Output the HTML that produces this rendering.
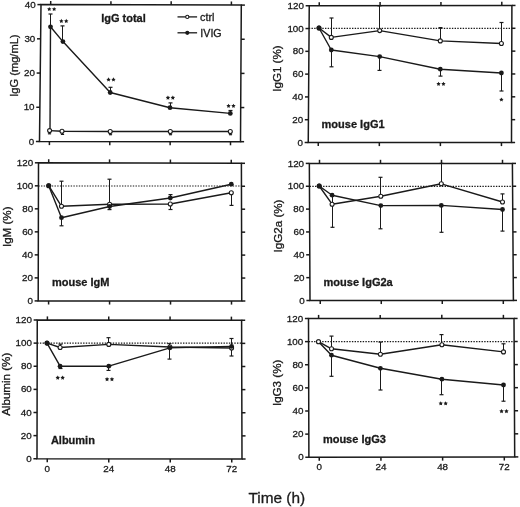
<!DOCTYPE html>
<html><head><meta charset="utf-8"><style>
html,body{margin:0;padding:0;background:#fff;width:520px;height:507px;overflow:hidden;}
svg{display:block;will-change:transform;}
text{font-family:"Liberation Sans",sans-serif;fill:#1a1a1a;stroke:#1a1a1a;stroke-width:0.3px;}
</style></head><body>
<svg width="520" height="507" viewBox="0 0 520 507" stroke="#1a1a1a" fill="none">
<rect x="0" y="0" width="520" height="507" fill="#fff" stroke="none"/>
<g stroke="#1a1a1a">
<polygon points="41.00,4.60 241.30,5.10 240.50,141.70 39.50,141.50" fill="none" stroke-width="1.5"/>
<line x1="50.70" y1="4.62" x2="50.70" y2="1.02" stroke-width="1.5" />
<line x1="49.40" y1="141.51" x2="49.40" y2="145.11" stroke-width="1.5" />
<line x1="110.93" y1="4.77" x2="110.93" y2="1.17" stroke-width="1.5" />
<line x1="109.77" y1="141.57" x2="109.77" y2="145.17" stroke-width="1.5" />
<line x1="171.17" y1="4.92" x2="171.17" y2="1.32" stroke-width="1.5" />
<line x1="170.13" y1="141.63" x2="170.13" y2="145.23" stroke-width="1.5" />
<line x1="231.40" y1="5.08" x2="231.40" y2="1.48" stroke-width="1.5" />
<line x1="230.50" y1="141.69" x2="230.50" y2="145.29" stroke-width="1.5" />
<line x1="39.50" y1="141.50" x2="35.90" y2="141.50" stroke-width="1.5" />
<line x1="240.50" y1="141.70" x2="244.10" y2="141.70" stroke-width="1.5" />
<text x="34.20" y="144.60" font-size="9.8" text-anchor="end" font-weight="normal" >0</text>
<line x1="39.88" y1="107.28" x2="36.27" y2="107.28" stroke-width="1.5" />
<line x1="240.70" y1="107.55" x2="244.30" y2="107.55" stroke-width="1.5" />
<text x="34.58" y="110.38" font-size="9.8" text-anchor="end" font-weight="normal" >10</text>
<line x1="40.25" y1="73.05" x2="36.65" y2="73.05" stroke-width="1.5" />
<line x1="240.90" y1="73.40" x2="244.50" y2="73.40" stroke-width="1.5" />
<text x="34.95" y="76.15" font-size="9.8" text-anchor="end" font-weight="normal" >20</text>
<line x1="40.62" y1="38.82" x2="37.02" y2="38.82" stroke-width="1.5" />
<line x1="241.10" y1="39.25" x2="244.70" y2="39.25" stroke-width="1.5" />
<text x="35.33" y="41.92" font-size="9.8" text-anchor="end" font-weight="normal" >30</text>
<line x1="41.00" y1="4.60" x2="37.40" y2="4.60" stroke-width="1.5" />
<line x1="241.30" y1="5.10" x2="244.90" y2="5.10" stroke-width="1.5" />
<text x="35.70" y="7.70" font-size="9.8" text-anchor="end" font-weight="normal" >40</text>
<polyline points="49.60,130.60 62.00,131.20 110.20,131.50 170.30,131.50 230.30,131.50" fill="none" stroke-width="1.4" stroke-linejoin="round"/>
<polyline points="50.00,130.60 50.50,26.80 62.90,41.60 110.20,92.50 170.00,107.70 230.30,113.40" fill="none" stroke-width="1.4" stroke-linejoin="round"/>
<line x1="50.50" y1="26.80" x2="50.50" y2="14.00" stroke-width="1.0" />
<line x1="48.50" y1="14.00" x2="52.50" y2="14.00" stroke-width="1.2" />
<line x1="62.50" y1="41.60" x2="62.50" y2="25.90" stroke-width="1.0" />
<line x1="60.50" y1="25.90" x2="64.50" y2="25.90" stroke-width="1.2" />
<line x1="110.50" y1="92.50" x2="110.50" y2="87.30" stroke-width="1.0" />
<line x1="108.50" y1="87.30" x2="112.50" y2="87.30" stroke-width="1.2" />
<line x1="170.50" y1="107.70" x2="170.50" y2="102.90" stroke-width="1.0" />
<line x1="168.50" y1="102.90" x2="172.50" y2="102.90" stroke-width="1.2" />
<line x1="230.50" y1="113.40" x2="230.50" y2="110.50" stroke-width="1.0" />
<line x1="228.50" y1="110.50" x2="232.50" y2="110.50" stroke-width="1.2" />
<line x1="49.50" y1="130.60" x2="49.50" y2="133.80" stroke-width="1.0" />
<line x1="47.90" y1="133.80" x2="51.10" y2="133.80" stroke-width="1.2" />
<line x1="62.50" y1="131.20" x2="62.50" y2="134.40" stroke-width="1.0" />
<line x1="60.90" y1="134.40" x2="64.10" y2="134.40" stroke-width="1.2" />
<line x1="110.50" y1="131.50" x2="110.50" y2="134.70" stroke-width="1.0" />
<line x1="108.90" y1="134.70" x2="112.10" y2="134.70" stroke-width="1.2" />
<line x1="170.50" y1="131.50" x2="170.50" y2="134.70" stroke-width="1.0" />
<line x1="168.90" y1="134.70" x2="172.10" y2="134.70" stroke-width="1.2" />
<line x1="230.50" y1="131.50" x2="230.50" y2="134.70" stroke-width="1.0" />
<line x1="228.90" y1="134.70" x2="232.10" y2="134.70" stroke-width="1.2" />
<circle cx="50.50" cy="26.80" r="2.4" fill="#1a1a1a" stroke="none"/>
<circle cx="62.90" cy="41.60" r="2.4" fill="#1a1a1a" stroke="none"/>
<circle cx="110.20" cy="92.50" r="2.4" fill="#1a1a1a" stroke="none"/>
<circle cx="170.00" cy="107.70" r="2.4" fill="#1a1a1a" stroke="none"/>
<circle cx="230.30" cy="113.40" r="2.4" fill="#1a1a1a" stroke="none"/>
<circle cx="49.60" cy="130.60" r="2.0" fill="#fff" stroke-width="1.1"/>
<circle cx="62.00" cy="131.20" r="2.0" fill="#fff" stroke-width="1.1"/>
<circle cx="110.20" cy="131.50" r="2.0" fill="#fff" stroke-width="1.1"/>
<circle cx="170.30" cy="131.50" r="2.0" fill="#fff" stroke-width="1.1"/>
<circle cx="230.30" cy="131.50" r="2.0" fill="#fff" stroke-width="1.1"/>
<polygon points="49.25,6.90 49.93,8.27 51.44,8.49 50.34,9.56 50.60,11.06 49.25,10.35 47.90,11.06 48.16,9.56 47.06,8.49 48.57,8.27" fill="#1a1a1a" stroke="none"/>
<polygon points="54.15,6.90 54.83,8.27 56.34,8.49 55.24,9.56 55.50,11.06 54.15,10.35 52.80,11.06 53.06,9.56 51.96,8.49 53.47,8.27" fill="#1a1a1a" stroke="none"/>
<polygon points="61.35,18.80 62.03,20.17 63.54,20.39 62.44,21.46 62.70,22.96 61.35,22.25 60.00,22.96 60.26,21.46 59.16,20.39 60.67,20.17" fill="#1a1a1a" stroke="none"/>
<polygon points="66.25,18.80 66.93,20.17 68.44,20.39 67.34,21.46 67.60,22.96 66.25,22.25 64.90,22.96 65.16,21.46 64.06,20.39 65.57,20.17" fill="#1a1a1a" stroke="none"/>
<polygon points="108.55,77.30 109.23,78.67 110.74,78.89 109.64,79.96 109.90,81.46 108.55,80.75 107.20,81.46 107.46,79.96 106.36,78.89 107.87,78.67" fill="#1a1a1a" stroke="none"/>
<polygon points="113.45,77.30 114.13,78.67 115.64,78.89 114.54,79.96 114.80,81.46 113.45,80.75 112.10,81.46 112.36,79.96 111.26,78.89 112.77,78.67" fill="#1a1a1a" stroke="none"/>
<polygon points="167.95,95.50 168.63,96.87 170.14,97.09 169.04,98.16 169.30,99.66 167.95,98.95 166.60,99.66 166.86,98.16 165.76,97.09 167.27,96.87" fill="#1a1a1a" stroke="none"/>
<polygon points="172.85,95.50 173.53,96.87 175.04,97.09 173.94,98.16 174.20,99.66 172.85,98.95 171.50,99.66 171.76,98.16 170.66,97.09 172.17,96.87" fill="#1a1a1a" stroke="none"/>
<polygon points="228.55,103.70 229.23,105.07 230.74,105.29 229.64,106.36 229.90,107.86 228.55,107.15 227.20,107.86 227.46,106.36 226.36,105.29 227.87,105.07" fill="#1a1a1a" stroke="none"/>
<polygon points="233.45,103.70 234.13,105.07 235.64,105.29 234.54,106.36 234.80,107.86 233.45,107.15 232.10,107.86 232.36,106.36 231.26,105.29 232.77,105.07" fill="#1a1a1a" stroke="none"/>
<text x="101.20" y="22.30" font-size="11.0" text-anchor="start" font-weight="bold" >IgG total</text>
<line x1="177.50" y1="16.90" x2="197.10" y2="16.90" stroke-width="1.3" />
<circle cx="187.30" cy="16.90" r="1.6" fill="#fff" stroke-width="1.1"/>
<line x1="177.50" y1="32.80" x2="197.10" y2="32.80" stroke-width="1.3" />
<circle cx="187.30" cy="32.80" r="2.1" fill="#1a1a1a" stroke="none"/>
<text x="200.00" y="20.90" font-size="10.8" text-anchor="start" font-weight="normal" >ctrl</text>
<text x="200.30" y="37.10" font-size="10.7" text-anchor="start" font-weight="normal" >IVIG</text>
<text x="0" y="0" font-size="11.1" text-anchor="middle" transform="translate(17.90,65.60) rotate(-90)">IgG (mg/mL)</text>
<polygon points="38.50,162.80 241.40,163.30 241.75,301.00 38.20,300.90" fill="none" stroke-width="1.5"/>
<line x1="48.70" y1="162.83" x2="48.70" y2="159.23" stroke-width="1.5" />
<line x1="48.60" y1="300.91" x2="48.60" y2="304.51" stroke-width="1.5" />
<line x1="109.55" y1="162.98" x2="109.55" y2="159.38" stroke-width="1.5" />
<line x1="109.57" y1="300.94" x2="109.57" y2="304.54" stroke-width="1.5" />
<line x1="170.40" y1="163.13" x2="170.40" y2="159.53" stroke-width="1.5" />
<line x1="170.53" y1="300.97" x2="170.53" y2="304.57" stroke-width="1.5" />
<line x1="231.25" y1="163.27" x2="231.25" y2="159.67" stroke-width="1.5" />
<line x1="231.50" y1="300.99" x2="231.50" y2="304.59" stroke-width="1.5" />
<line x1="38.20" y1="300.90" x2="34.60" y2="300.90" stroke-width="1.5" />
<line x1="241.75" y1="301.00" x2="245.35" y2="301.00" stroke-width="1.5" />
<text x="32.90" y="304.00" font-size="9.8" text-anchor="end" font-weight="normal" >0</text>
<line x1="38.25" y1="277.88" x2="34.65" y2="277.88" stroke-width="1.5" />
<line x1="241.69" y1="278.05" x2="245.29" y2="278.05" stroke-width="1.5" />
<text x="32.95" y="280.98" font-size="9.8" text-anchor="end" font-weight="normal" >20</text>
<line x1="38.30" y1="254.87" x2="34.70" y2="254.87" stroke-width="1.5" />
<line x1="241.63" y1="255.10" x2="245.23" y2="255.10" stroke-width="1.5" />
<text x="33.00" y="257.97" font-size="9.8" text-anchor="end" font-weight="normal" >40</text>
<line x1="38.35" y1="231.85" x2="34.75" y2="231.85" stroke-width="1.5" />
<line x1="241.57" y1="232.15" x2="245.17" y2="232.15" stroke-width="1.5" />
<text x="33.05" y="234.95" font-size="9.8" text-anchor="end" font-weight="normal" >60</text>
<line x1="38.40" y1="208.83" x2="34.80" y2="208.83" stroke-width="1.5" />
<line x1="241.52" y1="209.20" x2="245.12" y2="209.20" stroke-width="1.5" />
<text x="33.10" y="211.93" font-size="9.8" text-anchor="end" font-weight="normal" >80</text>
<line x1="38.45" y1="185.82" x2="34.85" y2="185.82" stroke-width="1.5" />
<line x1="241.46" y1="186.25" x2="245.06" y2="186.25" stroke-width="1.5" />
<text x="33.15" y="188.92" font-size="9.8" text-anchor="end" font-weight="normal" >100</text>
<line x1="38.50" y1="162.80" x2="34.90" y2="162.80" stroke-width="1.5" />
<line x1="241.40" y1="163.30" x2="245.00" y2="163.30" stroke-width="1.5" />
<text x="33.20" y="165.90" font-size="9.8" text-anchor="end" font-weight="normal" >120</text>
<line x1="38.30" y1="186.00" x2="241.60" y2="186.00" stroke-width="1.2" stroke-dasharray="1.4 1.3"/>
<polyline points="48.70,185.70 61.50,206.30 109.60,204.20 170.30,204.00 231.30,192.70" fill="none" stroke-width="1.4" stroke-linejoin="round"/>
<polyline points="48.70,185.70 61.50,217.70 109.60,206.50 170.30,198.00 231.30,184.20" fill="none" stroke-width="1.4" stroke-linejoin="round"/>
<line x1="61.50" y1="206.30" x2="61.50" y2="181.20" stroke-width="1.0" />
<line x1="59.50" y1="181.20" x2="63.50" y2="181.20" stroke-width="1.2" />
<line x1="109.50" y1="204.20" x2="109.50" y2="179.20" stroke-width="1.0" />
<line x1="107.50" y1="179.20" x2="111.50" y2="179.20" stroke-width="1.2" />
<line x1="61.50" y1="217.70" x2="61.50" y2="225.80" stroke-width="1.0" />
<line x1="59.50" y1="225.80" x2="63.50" y2="225.80" stroke-width="1.2" />
<line x1="109.50" y1="206.50" x2="109.50" y2="209.60" stroke-width="1.0" />
<line x1="107.50" y1="209.60" x2="111.50" y2="209.60" stroke-width="1.2" />
<line x1="170.50" y1="198.00" x2="170.50" y2="194.60" stroke-width="1.0" />
<line x1="168.50" y1="194.60" x2="172.50" y2="194.60" stroke-width="1.2" />
<line x1="170.50" y1="204.00" x2="170.50" y2="209.50" stroke-width="1.0" />
<line x1="168.50" y1="209.50" x2="172.50" y2="209.50" stroke-width="1.2" />
<line x1="231.50" y1="192.70" x2="231.50" y2="205.40" stroke-width="1.0" />
<line x1="229.50" y1="205.40" x2="233.50" y2="205.40" stroke-width="1.2" />
<circle cx="48.70" cy="185.70" r="2.0" fill="#fff" stroke-width="1.1"/>
<circle cx="61.50" cy="206.30" r="2.0" fill="#fff" stroke-width="1.1"/>
<circle cx="109.60" cy="204.20" r="2.0" fill="#fff" stroke-width="1.1"/>
<circle cx="170.30" cy="204.00" r="2.0" fill="#fff" stroke-width="1.1"/>
<circle cx="231.30" cy="192.70" r="2.0" fill="#fff" stroke-width="1.1"/>
<circle cx="48.70" cy="185.70" r="2.4" fill="#1a1a1a" stroke="none"/>
<circle cx="61.50" cy="217.70" r="2.4" fill="#1a1a1a" stroke="none"/>
<circle cx="109.60" cy="206.50" r="2.4" fill="#1a1a1a" stroke="none"/>
<circle cx="170.30" cy="198.00" r="2.4" fill="#1a1a1a" stroke="none"/>
<circle cx="231.30" cy="184.20" r="2.4" fill="#1a1a1a" stroke="none"/>
<text x="52.00" y="286.00" font-size="11.0" text-anchor="start" font-weight="bold" >mouse IgM</text>
<text x="0" y="0" font-size="11.6" text-anchor="middle" transform="translate(11.20,226.80) rotate(-90)">IgM (%)</text>
<polygon points="37.25,320.00 241.60,320.25 242.00,459.00 37.00,458.75" fill="none" stroke-width="1.5"/>
<line x1="47.40" y1="320.01" x2="47.40" y2="316.41" stroke-width="1.5" />
<line x1="47.25" y1="458.76" x2="47.25" y2="462.36" stroke-width="1.5" />
<line x1="108.73" y1="320.09" x2="108.73" y2="316.49" stroke-width="1.5" />
<line x1="108.75" y1="458.84" x2="108.75" y2="462.44" stroke-width="1.5" />
<line x1="170.07" y1="320.16" x2="170.07" y2="316.56" stroke-width="1.5" />
<line x1="170.25" y1="458.91" x2="170.25" y2="462.51" stroke-width="1.5" />
<line x1="231.40" y1="320.24" x2="231.40" y2="316.64" stroke-width="1.5" />
<line x1="231.75" y1="458.99" x2="231.75" y2="462.59" stroke-width="1.5" />
<line x1="37.00" y1="458.75" x2="33.40" y2="458.75" stroke-width="1.5" />
<line x1="242.00" y1="459.00" x2="245.60" y2="459.00" stroke-width="1.5" />
<text x="31.70" y="461.85" font-size="9.8" text-anchor="end" font-weight="normal" >0</text>
<line x1="37.04" y1="435.62" x2="33.44" y2="435.62" stroke-width="1.5" />
<line x1="241.93" y1="435.88" x2="245.53" y2="435.88" stroke-width="1.5" />
<text x="31.74" y="438.73" font-size="9.8" text-anchor="end" font-weight="normal" >20</text>
<line x1="37.08" y1="412.50" x2="33.48" y2="412.50" stroke-width="1.5" />
<line x1="241.87" y1="412.75" x2="245.47" y2="412.75" stroke-width="1.5" />
<text x="31.78" y="415.60" font-size="9.8" text-anchor="end" font-weight="normal" >40</text>
<line x1="37.12" y1="389.38" x2="33.52" y2="389.38" stroke-width="1.5" />
<line x1="241.80" y1="389.62" x2="245.40" y2="389.62" stroke-width="1.5" />
<text x="31.82" y="392.48" font-size="9.8" text-anchor="end" font-weight="normal" >60</text>
<line x1="37.17" y1="366.25" x2="33.57" y2="366.25" stroke-width="1.5" />
<line x1="241.73" y1="366.50" x2="245.33" y2="366.50" stroke-width="1.5" />
<text x="31.87" y="369.35" font-size="9.8" text-anchor="end" font-weight="normal" >80</text>
<line x1="37.21" y1="343.12" x2="33.61" y2="343.12" stroke-width="1.5" />
<line x1="241.67" y1="343.38" x2="245.27" y2="343.38" stroke-width="1.5" />
<text x="31.91" y="346.23" font-size="9.8" text-anchor="end" font-weight="normal" >100</text>
<line x1="37.25" y1="320.00" x2="33.65" y2="320.00" stroke-width="1.5" />
<line x1="241.60" y1="320.25" x2="245.20" y2="320.25" stroke-width="1.5" />
<text x="31.95" y="323.10" font-size="9.8" text-anchor="end" font-weight="normal" >120</text>
<line x1="37.20" y1="343.20" x2="241.80" y2="343.20" stroke-width="1.2" stroke-dasharray="1.4 1.3"/>
<polyline points="47.00,343.10 60.10,347.50 108.80,344.40 169.90,347.00 231.60,348.00" fill="none" stroke-width="1.4" stroke-linejoin="round"/>
<polyline points="47.00,343.10 60.10,366.20 108.80,366.20 169.90,347.80 231.60,346.40" fill="none" stroke-width="1.4" stroke-linejoin="round"/>
<line x1="60.50" y1="347.50" x2="60.50" y2="344.20" stroke-width="1.0" />
<line x1="58.50" y1="344.20" x2="62.50" y2="344.20" stroke-width="1.2" />
<line x1="108.50" y1="344.40" x2="108.50" y2="337.70" stroke-width="1.0" />
<line x1="106.50" y1="337.70" x2="110.50" y2="337.70" stroke-width="1.2" />
<line x1="60.50" y1="366.20" x2="60.50" y2="368.50" stroke-width="1.0" />
<line x1="58.50" y1="368.50" x2="62.50" y2="368.50" stroke-width="1.2" />
<line x1="108.50" y1="366.20" x2="108.50" y2="370.40" stroke-width="1.0" />
<line x1="106.50" y1="370.40" x2="110.50" y2="370.40" stroke-width="1.2" />
<line x1="169.50" y1="347.80" x2="169.50" y2="359.10" stroke-width="1.0" />
<line x1="167.50" y1="359.10" x2="171.50" y2="359.10" stroke-width="1.2" />
<line x1="169.50" y1="347.00" x2="169.50" y2="343.70" stroke-width="1.0" />
<line x1="167.50" y1="343.70" x2="171.50" y2="343.70" stroke-width="1.2" />
<line x1="231.50" y1="346.40" x2="231.50" y2="338.50" stroke-width="1.0" />
<line x1="229.50" y1="338.50" x2="233.50" y2="338.50" stroke-width="1.2" />
<line x1="231.50" y1="348.00" x2="231.50" y2="356.00" stroke-width="1.0" />
<line x1="229.50" y1="356.00" x2="233.50" y2="356.00" stroke-width="1.2" />
<circle cx="47.00" cy="343.10" r="2.0" fill="#fff" stroke-width="1.1"/>
<circle cx="60.10" cy="347.50" r="2.0" fill="#fff" stroke-width="1.1"/>
<circle cx="108.80" cy="344.40" r="2.0" fill="#fff" stroke-width="1.1"/>
<circle cx="169.90" cy="347.00" r="2.0" fill="#fff" stroke-width="1.1"/>
<circle cx="231.60" cy="348.00" r="2.0" fill="#fff" stroke-width="1.1"/>
<circle cx="47.00" cy="343.10" r="2.4" fill="#1a1a1a" stroke="none"/>
<circle cx="60.10" cy="366.20" r="2.4" fill="#1a1a1a" stroke="none"/>
<circle cx="108.80" cy="366.20" r="2.4" fill="#1a1a1a" stroke="none"/>
<circle cx="169.90" cy="347.80" r="2.4" fill="#1a1a1a" stroke="none"/>
<circle cx="231.60" cy="346.40" r="2.4" fill="#1a1a1a" stroke="none"/>
<polygon points="57.75,375.50 58.43,376.87 59.94,377.09 58.84,378.16 59.10,379.66 57.75,378.95 56.40,379.66 56.66,378.16 55.56,377.09 57.07,376.87" fill="#1a1a1a" stroke="none"/>
<polygon points="62.65,375.50 63.33,376.87 64.84,377.09 63.74,378.16 64.00,379.66 62.65,378.95 61.30,379.66 61.56,378.16 60.46,377.09 61.97,376.87" fill="#1a1a1a" stroke="none"/>
<polygon points="107.05,377.00 107.73,378.37 109.24,378.59 108.14,379.66 108.40,381.16 107.05,380.45 105.70,381.16 105.96,379.66 104.86,378.59 106.37,378.37" fill="#1a1a1a" stroke="none"/>
<polygon points="111.95,377.00 112.63,378.37 114.14,378.59 113.04,379.66 113.30,381.16 111.95,380.45 110.60,381.16 110.86,379.66 109.76,378.59 111.27,378.37" fill="#1a1a1a" stroke="none"/>
<text x="50.90" y="443.90" font-size="11.0" text-anchor="start" font-weight="bold" >Albumin</text>
<text x="0" y="0" font-size="11.6" text-anchor="middle" transform="translate(9.50,384.30) rotate(-90)">Albumin (%)</text>
<text x="47.25" y="472.00" font-size="9.8" text-anchor="middle" font-weight="normal" >0</text>
<text x="108.75" y="472.00" font-size="9.8" text-anchor="middle" font-weight="normal" >24</text>
<text x="170.25" y="472.00" font-size="9.8" text-anchor="middle" font-weight="normal" >48</text>
<text x="231.75" y="472.00" font-size="9.8" text-anchor="middle" font-weight="normal" >72</text>
<polygon points="309.25,5.75 511.90,5.45 511.50,142.50 308.25,142.50" fill="none" stroke-width="1.5"/>
<line x1="319.25" y1="5.74" x2="319.25" y2="2.14" stroke-width="1.5" />
<line x1="318.25" y1="142.50" x2="318.25" y2="146.10" stroke-width="1.5" />
<line x1="380.10" y1="5.65" x2="380.10" y2="2.05" stroke-width="1.5" />
<line x1="379.32" y1="142.50" x2="379.32" y2="146.10" stroke-width="1.5" />
<line x1="440.95" y1="5.56" x2="440.95" y2="1.96" stroke-width="1.5" />
<line x1="440.38" y1="142.50" x2="440.38" y2="146.10" stroke-width="1.5" />
<line x1="501.80" y1="5.46" x2="501.80" y2="1.86" stroke-width="1.5" />
<line x1="501.45" y1="142.50" x2="501.45" y2="146.10" stroke-width="1.5" />
<line x1="308.25" y1="142.50" x2="304.65" y2="142.50" stroke-width="1.5" />
<line x1="511.50" y1="142.50" x2="515.10" y2="142.50" stroke-width="1.5" />
<text x="302.95" y="145.60" font-size="9.8" text-anchor="end" font-weight="normal" >0</text>
<line x1="308.42" y1="119.71" x2="304.82" y2="119.71" stroke-width="1.5" />
<line x1="511.57" y1="119.66" x2="515.17" y2="119.66" stroke-width="1.5" />
<text x="303.12" y="122.81" font-size="9.8" text-anchor="end" font-weight="normal" >20</text>
<line x1="308.58" y1="96.92" x2="304.98" y2="96.92" stroke-width="1.5" />
<line x1="511.63" y1="96.82" x2="515.23" y2="96.82" stroke-width="1.5" />
<text x="303.28" y="100.02" font-size="9.8" text-anchor="end" font-weight="normal" >40</text>
<line x1="308.75" y1="74.12" x2="305.15" y2="74.12" stroke-width="1.5" />
<line x1="511.70" y1="73.97" x2="515.30" y2="73.97" stroke-width="1.5" />
<text x="303.45" y="77.22" font-size="9.8" text-anchor="end" font-weight="normal" >60</text>
<line x1="308.92" y1="51.33" x2="305.32" y2="51.33" stroke-width="1.5" />
<line x1="511.77" y1="51.13" x2="515.37" y2="51.13" stroke-width="1.5" />
<text x="303.62" y="54.43" font-size="9.8" text-anchor="end" font-weight="normal" >80</text>
<line x1="309.08" y1="28.54" x2="305.48" y2="28.54" stroke-width="1.5" />
<line x1="511.83" y1="28.29" x2="515.43" y2="28.29" stroke-width="1.5" />
<text x="303.78" y="31.64" font-size="9.8" text-anchor="end" font-weight="normal" >100</text>
<line x1="309.25" y1="5.75" x2="305.65" y2="5.75" stroke-width="1.5" />
<line x1="511.90" y1="5.45" x2="515.50" y2="5.45" stroke-width="1.5" />
<text x="303.95" y="8.85" font-size="9.8" text-anchor="end" font-weight="normal" >120</text>
<line x1="308.80" y1="28.40" x2="511.70" y2="28.40" stroke-width="1.2" stroke-dasharray="1.4 1.3"/>
<polyline points="319.00,28.00 331.30,37.40 379.70,30.60 440.30,40.90 501.40,43.50" fill="none" stroke-width="1.4" stroke-linejoin="round"/>
<polyline points="319.00,28.00 331.30,50.00 379.70,56.60 440.30,69.20 501.40,73.00" fill="none" stroke-width="1.4" stroke-linejoin="round"/>
<line x1="331.50" y1="37.40" x2="331.50" y2="18.00" stroke-width="1.0" />
<line x1="329.50" y1="18.00" x2="333.50" y2="18.00" stroke-width="1.2" />
<line x1="379.50" y1="30.60" x2="379.50" y2="5.80" stroke-width="1.0" />
<line x1="377.50" y1="5.80" x2="381.50" y2="5.80" stroke-width="1.2" />
<line x1="440.50" y1="40.90" x2="440.50" y2="27.60" stroke-width="1.0" />
<line x1="438.50" y1="27.60" x2="442.50" y2="27.60" stroke-width="1.2" />
<line x1="501.50" y1="43.50" x2="501.50" y2="22.50" stroke-width="1.0" />
<line x1="499.50" y1="22.50" x2="503.50" y2="22.50" stroke-width="1.2" />
<line x1="331.50" y1="50.00" x2="331.50" y2="66.80" stroke-width="1.0" />
<line x1="329.50" y1="66.80" x2="333.50" y2="66.80" stroke-width="1.2" />
<line x1="379.50" y1="56.60" x2="379.50" y2="70.40" stroke-width="1.0" />
<line x1="377.50" y1="70.40" x2="381.50" y2="70.40" stroke-width="1.2" />
<line x1="440.50" y1="69.20" x2="440.50" y2="76.10" stroke-width="1.0" />
<line x1="438.50" y1="76.10" x2="442.50" y2="76.10" stroke-width="1.2" />
<line x1="501.50" y1="73.00" x2="501.50" y2="91.00" stroke-width="1.0" />
<line x1="499.50" y1="91.00" x2="503.50" y2="91.00" stroke-width="1.2" />
<circle cx="319.00" cy="28.00" r="2.0" fill="#fff" stroke-width="1.1"/>
<circle cx="331.30" cy="37.40" r="2.0" fill="#fff" stroke-width="1.1"/>
<circle cx="379.70" cy="30.60" r="2.0" fill="#fff" stroke-width="1.1"/>
<circle cx="440.30" cy="40.90" r="2.0" fill="#fff" stroke-width="1.1"/>
<circle cx="501.40" cy="43.50" r="2.0" fill="#fff" stroke-width="1.1"/>
<circle cx="319.00" cy="28.00" r="2.4" fill="#1a1a1a" stroke="none"/>
<circle cx="331.30" cy="50.00" r="2.4" fill="#1a1a1a" stroke="none"/>
<circle cx="379.70" cy="56.60" r="2.4" fill="#1a1a1a" stroke="none"/>
<circle cx="440.30" cy="69.20" r="2.4" fill="#1a1a1a" stroke="none"/>
<circle cx="501.40" cy="73.00" r="2.4" fill="#1a1a1a" stroke="none"/>
<polygon points="438.55,81.70 439.23,83.07 440.74,83.29 439.64,84.36 439.90,85.86 438.55,85.15 437.20,85.86 437.46,84.36 436.36,83.29 437.87,83.07" fill="#1a1a1a" stroke="none"/>
<polygon points="443.45,81.70 444.13,83.07 445.64,83.29 444.54,84.36 444.80,85.86 443.45,85.15 442.10,85.86 442.36,84.36 441.26,83.29 442.77,83.07" fill="#1a1a1a" stroke="none"/>
<polygon points="501.40,97.40 502.08,98.77 503.59,98.99 502.49,100.06 502.75,101.56 501.40,100.85 500.05,101.56 500.31,100.06 499.21,98.99 500.72,98.77" fill="#1a1a1a" stroke="none"/>
<text x="321.60" y="128.20" font-size="11.0" text-anchor="start" font-weight="bold" >mouse IgG1</text>
<text x="0" y="0" font-size="11.6" text-anchor="middle" transform="translate(280.50,68.60) rotate(-90)">IgG1 (%)</text>
<polygon points="309.35,163.40 512.40,163.40 513.40,300.40 310.00,300.50" fill="none" stroke-width="1.5"/>
<line x1="319.50" y1="163.40" x2="319.50" y2="159.80" stroke-width="1.5" />
<line x1="320.25" y1="300.49" x2="320.25" y2="304.09" stroke-width="1.5" />
<line x1="380.50" y1="163.40" x2="380.50" y2="159.80" stroke-width="1.5" />
<line x1="381.27" y1="300.46" x2="381.27" y2="304.06" stroke-width="1.5" />
<line x1="441.50" y1="163.40" x2="441.50" y2="159.80" stroke-width="1.5" />
<line x1="442.28" y1="300.43" x2="442.28" y2="304.03" stroke-width="1.5" />
<line x1="502.50" y1="163.40" x2="502.50" y2="159.80" stroke-width="1.5" />
<line x1="503.30" y1="300.40" x2="503.30" y2="304.00" stroke-width="1.5" />
<line x1="310.00" y1="300.50" x2="306.40" y2="300.50" stroke-width="1.5" />
<line x1="513.40" y1="300.40" x2="517.00" y2="300.40" stroke-width="1.5" />
<text x="304.70" y="303.60" font-size="9.8" text-anchor="end" font-weight="normal" >0</text>
<line x1="309.89" y1="277.65" x2="306.29" y2="277.65" stroke-width="1.5" />
<line x1="513.23" y1="277.57" x2="516.83" y2="277.57" stroke-width="1.5" />
<text x="304.59" y="280.75" font-size="9.8" text-anchor="end" font-weight="normal" >20</text>
<line x1="309.78" y1="254.80" x2="306.18" y2="254.80" stroke-width="1.5" />
<line x1="513.07" y1="254.73" x2="516.67" y2="254.73" stroke-width="1.5" />
<text x="304.48" y="257.90" font-size="9.8" text-anchor="end" font-weight="normal" >40</text>
<line x1="309.68" y1="231.95" x2="306.07" y2="231.95" stroke-width="1.5" />
<line x1="512.90" y1="231.90" x2="516.50" y2="231.90" stroke-width="1.5" />
<text x="304.38" y="235.05" font-size="9.8" text-anchor="end" font-weight="normal" >60</text>
<line x1="309.57" y1="209.10" x2="305.97" y2="209.10" stroke-width="1.5" />
<line x1="512.73" y1="209.07" x2="516.33" y2="209.07" stroke-width="1.5" />
<text x="304.27" y="212.20" font-size="9.8" text-anchor="end" font-weight="normal" >80</text>
<line x1="309.46" y1="186.25" x2="305.86" y2="186.25" stroke-width="1.5" />
<line x1="512.57" y1="186.23" x2="516.17" y2="186.23" stroke-width="1.5" />
<text x="304.16" y="189.35" font-size="9.8" text-anchor="end" font-weight="normal" >100</text>
<line x1="309.35" y1="163.40" x2="305.75" y2="163.40" stroke-width="1.5" />
<line x1="512.40" y1="163.40" x2="516.00" y2="163.40" stroke-width="1.5" />
<text x="304.05" y="166.50" font-size="9.8" text-anchor="end" font-weight="normal" >120</text>
<line x1="309.60" y1="186.30" x2="512.90" y2="186.30" stroke-width="1.2" stroke-dasharray="1.4 1.3"/>
<polyline points="319.20,186.00 332.10,204.20 380.80,196.20 441.30,183.80 502.50,202.00" fill="none" stroke-width="1.4" stroke-linejoin="round"/>
<polyline points="319.20,186.00 332.10,195.20 380.80,205.60 441.30,205.40 502.50,209.50" fill="none" stroke-width="1.4" stroke-linejoin="round"/>
<line x1="332.50" y1="195.20" x2="332.50" y2="227.30" stroke-width="1.0" />
<line x1="330.50" y1="227.30" x2="334.50" y2="227.30" stroke-width="1.2" />
<line x1="380.50" y1="196.20" x2="380.50" y2="177.30" stroke-width="1.0" />
<line x1="378.50" y1="177.30" x2="382.50" y2="177.30" stroke-width="1.2" />
<line x1="441.50" y1="183.80" x2="441.50" y2="163.40" stroke-width="1.0" />
<line x1="439.50" y1="163.40" x2="443.50" y2="163.40" stroke-width="1.2" />
<line x1="502.50" y1="202.00" x2="502.50" y2="193.90" stroke-width="1.0" />
<line x1="500.50" y1="193.90" x2="504.50" y2="193.90" stroke-width="1.2" />
<line x1="380.50" y1="205.60" x2="380.50" y2="228.80" stroke-width="1.0" />
<line x1="378.50" y1="228.80" x2="382.50" y2="228.80" stroke-width="1.2" />
<line x1="441.50" y1="205.40" x2="441.50" y2="232.30" stroke-width="1.0" />
<line x1="439.50" y1="232.30" x2="443.50" y2="232.30" stroke-width="1.2" />
<line x1="502.50" y1="209.50" x2="502.50" y2="231.10" stroke-width="1.0" />
<line x1="500.50" y1="231.10" x2="504.50" y2="231.10" stroke-width="1.2" />
<circle cx="319.20" cy="186.00" r="2.0" fill="#fff" stroke-width="1.1"/>
<circle cx="332.10" cy="204.20" r="2.0" fill="#fff" stroke-width="1.1"/>
<circle cx="380.80" cy="196.20" r="2.0" fill="#fff" stroke-width="1.1"/>
<circle cx="441.30" cy="183.80" r="2.0" fill="#fff" stroke-width="1.1"/>
<circle cx="502.50" cy="202.00" r="2.0" fill="#fff" stroke-width="1.1"/>
<circle cx="319.20" cy="186.00" r="2.4" fill="#1a1a1a" stroke="none"/>
<circle cx="332.10" cy="195.20" r="2.4" fill="#1a1a1a" stroke="none"/>
<circle cx="380.80" cy="205.60" r="2.4" fill="#1a1a1a" stroke="none"/>
<circle cx="441.30" cy="205.40" r="2.4" fill="#1a1a1a" stroke="none"/>
<circle cx="502.50" cy="209.50" r="2.4" fill="#1a1a1a" stroke="none"/>
<text x="323.60" y="285.70" font-size="11.0" text-anchor="start" font-weight="bold" >mouse IgG2a</text>
<text x="0" y="0" font-size="11.6" text-anchor="middle" transform="translate(282.30,226.00) rotate(-90)">IgG2a (%)</text>
<polygon points="308.50,318.50 514.00,318.45 514.70,456.90 308.90,457.25" fill="none" stroke-width="1.5"/>
<line x1="318.60" y1="318.50" x2="318.60" y2="314.90" stroke-width="1.5" />
<line x1="319.25" y1="457.23" x2="319.25" y2="460.83" stroke-width="1.5" />
<line x1="380.20" y1="318.48" x2="380.20" y2="314.88" stroke-width="1.5" />
<line x1="380.93" y1="457.13" x2="380.93" y2="460.73" stroke-width="1.5" />
<line x1="441.80" y1="318.47" x2="441.80" y2="314.87" stroke-width="1.5" />
<line x1="442.62" y1="457.02" x2="442.62" y2="460.62" stroke-width="1.5" />
<line x1="503.40" y1="318.45" x2="503.40" y2="314.85" stroke-width="1.5" />
<line x1="504.30" y1="456.92" x2="504.30" y2="460.52" stroke-width="1.5" />
<line x1="308.90" y1="457.25" x2="305.30" y2="457.25" stroke-width="1.5" />
<line x1="514.70" y1="456.90" x2="518.30" y2="456.90" stroke-width="1.5" />
<text x="303.60" y="460.35" font-size="9.8" text-anchor="end" font-weight="normal" >0</text>
<line x1="308.83" y1="434.12" x2="305.23" y2="434.12" stroke-width="1.5" />
<line x1="514.58" y1="433.82" x2="518.18" y2="433.82" stroke-width="1.5" />
<text x="303.53" y="437.23" font-size="9.8" text-anchor="end" font-weight="normal" >20</text>
<line x1="308.77" y1="411.00" x2="305.17" y2="411.00" stroke-width="1.5" />
<line x1="514.47" y1="410.75" x2="518.07" y2="410.75" stroke-width="1.5" />
<text x="303.47" y="414.10" font-size="9.8" text-anchor="end" font-weight="normal" >40</text>
<line x1="308.70" y1="387.88" x2="305.10" y2="387.88" stroke-width="1.5" />
<line x1="514.35" y1="387.67" x2="517.95" y2="387.67" stroke-width="1.5" />
<text x="303.40" y="390.98" font-size="9.8" text-anchor="end" font-weight="normal" >60</text>
<line x1="308.63" y1="364.75" x2="305.03" y2="364.75" stroke-width="1.5" />
<line x1="514.23" y1="364.60" x2="517.83" y2="364.60" stroke-width="1.5" />
<text x="303.33" y="367.85" font-size="9.8" text-anchor="end" font-weight="normal" >80</text>
<line x1="308.57" y1="341.62" x2="304.97" y2="341.62" stroke-width="1.5" />
<line x1="514.12" y1="341.52" x2="517.72" y2="341.52" stroke-width="1.5" />
<text x="303.27" y="344.73" font-size="9.8" text-anchor="end" font-weight="normal" >100</text>
<line x1="308.50" y1="318.50" x2="304.90" y2="318.50" stroke-width="1.5" />
<line x1="514.00" y1="318.45" x2="517.60" y2="318.45" stroke-width="1.5" />
<text x="303.20" y="321.60" font-size="9.8" text-anchor="end" font-weight="normal" >120</text>
<line x1="308.70" y1="341.70" x2="514.30" y2="341.70" stroke-width="1.2" stroke-dasharray="1.4 1.3"/>
<polyline points="318.50,341.70 331.50,348.80 380.40,354.20 441.90,344.70 503.50,351.90" fill="none" stroke-width="1.4" stroke-linejoin="round"/>
<polyline points="318.50,341.70 331.50,355.20 380.40,368.30 441.90,379.20 503.50,385.00" fill="none" stroke-width="1.4" stroke-linejoin="round"/>
<line x1="331.50" y1="348.80" x2="331.50" y2="336.10" stroke-width="1.0" />
<line x1="329.50" y1="336.10" x2="333.50" y2="336.10" stroke-width="1.2" />
<line x1="380.50" y1="354.20" x2="380.50" y2="342.10" stroke-width="1.0" />
<line x1="378.50" y1="342.10" x2="382.50" y2="342.10" stroke-width="1.2" />
<line x1="441.50" y1="344.70" x2="441.50" y2="334.60" stroke-width="1.0" />
<line x1="439.50" y1="334.60" x2="443.50" y2="334.60" stroke-width="1.2" />
<line x1="503.50" y1="351.90" x2="503.50" y2="343.80" stroke-width="1.0" />
<line x1="501.50" y1="343.80" x2="505.50" y2="343.80" stroke-width="1.2" />
<line x1="331.50" y1="355.20" x2="331.50" y2="376.30" stroke-width="1.0" />
<line x1="329.50" y1="376.30" x2="333.50" y2="376.30" stroke-width="1.2" />
<line x1="380.50" y1="368.30" x2="380.50" y2="390.00" stroke-width="1.0" />
<line x1="378.50" y1="390.00" x2="382.50" y2="390.00" stroke-width="1.2" />
<line x1="441.50" y1="379.20" x2="441.50" y2="394.70" stroke-width="1.0" />
<line x1="439.50" y1="394.70" x2="443.50" y2="394.70" stroke-width="1.2" />
<line x1="503.50" y1="385.00" x2="503.50" y2="401.20" stroke-width="1.0" />
<line x1="501.50" y1="401.20" x2="505.50" y2="401.20" stroke-width="1.2" />
<circle cx="318.50" cy="341.70" r="2.4" fill="#1a1a1a" stroke="none"/>
<circle cx="331.50" cy="355.20" r="2.4" fill="#1a1a1a" stroke="none"/>
<circle cx="380.40" cy="368.30" r="2.4" fill="#1a1a1a" stroke="none"/>
<circle cx="441.90" cy="379.20" r="2.4" fill="#1a1a1a" stroke="none"/>
<circle cx="503.50" cy="385.00" r="2.4" fill="#1a1a1a" stroke="none"/>
<circle cx="318.50" cy="341.70" r="2.0" fill="#fff" stroke-width="1.1"/>
<circle cx="331.50" cy="348.80" r="2.0" fill="#fff" stroke-width="1.1"/>
<circle cx="380.40" cy="354.20" r="2.0" fill="#fff" stroke-width="1.1"/>
<circle cx="441.90" cy="344.70" r="2.0" fill="#fff" stroke-width="1.1"/>
<circle cx="503.50" cy="351.90" r="2.0" fill="#fff" stroke-width="1.1"/>
<polygon points="440.75,401.20 441.43,402.57 442.94,402.79 441.84,403.86 442.10,405.36 440.75,404.65 439.40,405.36 439.66,403.86 438.56,402.79 440.07,402.57" fill="#1a1a1a" stroke="none"/>
<polygon points="445.65,401.20 446.33,402.57 447.84,402.79 446.74,403.86 447.00,405.36 445.65,404.65 444.30,405.36 444.56,403.86 443.46,402.79 444.97,402.57" fill="#1a1a1a" stroke="none"/>
<polygon points="501.55,409.00 502.23,410.37 503.74,410.59 502.64,411.66 502.90,413.16 501.55,412.45 500.20,413.16 500.46,411.66 499.36,410.59 500.87,410.37" fill="#1a1a1a" stroke="none"/>
<polygon points="506.45,409.00 507.13,410.37 508.64,410.59 507.54,411.66 507.80,413.16 506.45,412.45 505.10,413.16 505.36,411.66 504.26,410.59 505.77,410.37" fill="#1a1a1a" stroke="none"/>
<text x="322.90" y="442.60" font-size="11.0" text-anchor="start" font-weight="bold" >mouse IgG3</text>
<text x="0" y="0" font-size="11.6" text-anchor="middle" transform="translate(281.10,382.90) rotate(-90)">IgG3 (%)</text>
<text x="319.25" y="470.40" font-size="9.8" text-anchor="middle" font-weight="normal" >0</text>
<text x="380.93" y="470.40" font-size="9.8" text-anchor="middle" font-weight="normal" >24</text>
<text x="442.62" y="470.40" font-size="9.8" text-anchor="middle" font-weight="normal" >48</text>
<text x="504.30" y="470.40" font-size="9.8" text-anchor="middle" font-weight="normal" >72</text>
<text x="248.40" y="502.80" font-size="15.4" text-anchor="start" font-weight="normal" >Time (h)</text>
</g>
</svg>
</body></html>
